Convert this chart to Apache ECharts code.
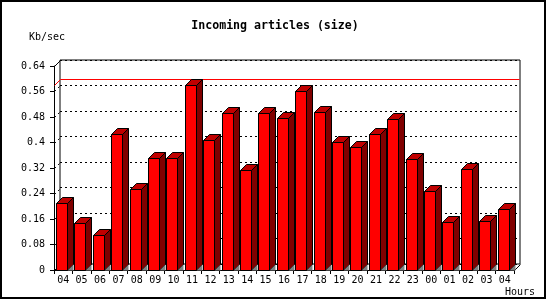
<!DOCTYPE html>
<html>
<head>
<meta charset="utf-8">
<script src="https://cdn.jsdelivr.net/npm/echarts@6/dist/echarts.min.js"></script>
<style>html,body{margin:0;padding:0;background:#fff}#c{width:550px;height:300px}</style>
</head>
<body>
<div id="c"></div>
<script>
const hours = ['04','05','06','07','08','09','10','11','12','13','14','15','16','17','18','19','20','21','22','23','00','01','02','03','04'];
const kbPerSec = [0.21,0.147,0.109,0.426,0.254,0.352,0.352,0.579,0.409,0.491,0.314,0.494,0.477,0.56,0.496,0.402,0.386,0.427,0.475,0.348,0.248,0.151,0.317,0.153,0.191];
const yTicks = [0,0.08,0.16,0.24,0.32,0.4,0.48,0.56,0.64];
const titleText = 'Incoming articles (size)';
const yUnit = 'Kb/sec';
const xUnit = 'Hours';

const FONT = 'DejaVu Sans Mono';
const DEPTH = 6;
const BAR_W = 11;
const maxVal = Math.max.apply(null, kbPerSec);

const chart = echarts.init(document.getElementById('c'), null, {renderer: 'canvas'});

function barItem(params, api) {
  const i = api.value(0), v = api.value(1);
  const base = api.coord([i, 0]);
  const top = api.coord([i, v]);
  const band = api.size([1, 0])[0];
  const x0 = Math.round(base[0] - band / 2) + 2.5;
  const yB = Math.round(base[1]) + 0.5;
  const yT = Math.round(top[1]) + 0.5;
  const w = BAR_W, d = DEPTH;
  return {
    type: 'group',
    children: [
      {type: 'polygon', shape: {points: [[x0 + w, yT], [x0 + w + d, yT - d], [x0 + w + d, yB - d], [x0 + w, yB]]},
       style: {fill: '#800000', stroke: '#000', lineWidth: 1}},
      {type: 'polygon', shape: {points: [[x0 + w, yB], [x0 + w + d, yB - d], [x0 + w + d, yB]]},
       style: {fill: '#808080', stroke: null}},
      {type: 'polygon', shape: {points: [[x0, yT], [x0 + d, yT - d], [x0 + w + d, yT - d], [x0 + w, yT]]},
       style: {fill: '#c00000', stroke: '#000', lineWidth: 1}},
      {type: 'rect', shape: {x: x0, y: yT, width: w, height: yB - yT},
       style: {fill: '#ff0000', stroke: '#000', lineWidth: 1}}
    ]
  };
}

function wallItem(params, api) {
  const v = api.value(1);
  const cs = params.coordSys;
  const p = api.coord([0, v]);
  const y = Math.round(p[1]) + 0.5;
  const xl = Math.round(cs.x) + 0.5;
  const solid = (v === yTicks[0] || v === yTicks[yTicks.length - 1]);
  const children = [
    {type: 'line', shape: {x1: xl - DEPTH, y1: y + DEPTH, x2: xl, y2: y},
     style: {stroke: '#000', lineWidth: 1, lineDash: solid ? null : [2, 3]}}
  ];
  if (v === yTicks[0]) {
    const xr = Math.round(cs.x + cs.width) + 0.5;
    children.push({type: 'line', shape: {x1: xr - DEPTH, y1: y + DEPTH, x2: xr, y2: y},
      style: {stroke: '#000', lineWidth: 1}});
  }
  return {type: 'group', children: children};
}

function maxItem(params, api) {
  const v = api.value(1);
  const cs = params.coordSys;
  const p = api.coord([0, v]);
  const y = Math.round(p[1]) + 0.5;
  const xl = Math.round(cs.x) + 0.5;
  const xr = Math.round(cs.x + cs.width) - 0.5;
  return {type: 'group', children: [
    {type: 'line', shape: {x1: xl - DEPTH, y1: y + DEPTH, x2: xl, y2: y},
     style: {stroke: '#ff0000', lineWidth: 1}},
    {type: 'line', shape: {x1: xl, y1: y, x2: xr, y2: y},
     style: {stroke: '#ff0000', lineWidth: 1}}
  ]};
}

const option = {
  backgroundColor: '#fff',
  animation: false,
  title: [
    {text: titleText, left: 'center', top: 20, padding: 0,
     textStyle: {fontFamily: FONT, fontWeight: 'bold', fontSize: 11.6, color: '#000'}},
    {text: yUnit, left: 29, top: 32, padding: 0,
     textStyle: {fontFamily: FONT, fontWeight: 'normal', fontSize: 10, color: '#000'}},
    {text: xUnit, left: 505, top: 287, padding: 0,
     textStyle: {fontFamily: FONT, fontWeight: 'normal', fontSize: 10, color: '#000'}}
  ],
  graphic: [
    {type: 'rect', shape: {x: 1, y: 1, width: 544, height: 297},
     style: {fill: null, stroke: '#000', lineWidth: 2}, z: 100}
  ],
  grid: [
    {left: 54, right: 36, top: 66, bottom: 30, containLabel: false},
    {left: 60, right: 30, top: 60, bottom: 36, containLabel: false,
     show: true, borderColor: '#000', borderWidth: 1, backgroundColor: 'transparent'}
  ],
  xAxis: [
    {type: 'category', gridIndex: 0, data: hours, boundaryGap: true,
     axisLine: {show: true, lineStyle: {color: '#000', width: 1}},
     axisTick: {show: true, interval: 0, length: 4, lineStyle: {color: '#000'}},
     axisLabel: {interval: 0, margin: 5, fontFamily: FONT, fontSize: 10, color: '#000'},
     splitLine: {show: false}},
    {type: 'category', gridIndex: 1, data: hours, show: false}
  ],
  yAxis: [
    {type: 'value', gridIndex: 0, min: 0, max: 0.64, interval: 0.08,
     axisLine: {show: true, lineStyle: {color: '#000', width: 1}},
     axisTick: {show: true, length: 4, lineStyle: {color: '#000'}},
     axisLabel: {margin: 9, fontFamily: FONT, fontSize: 10, color: '#000',
       formatter: function (v) { return String(Math.round(v * 100) / 100); }},
     splitLine: {show: false}},
    {type: 'value', gridIndex: 1, min: 0, max: 0.64, interval: 0.08,
     axisLine: {show: false}, axisTick: {show: false}, axisLabel: {show: false},
     splitLine: {show: true, lineStyle: {color: '#000', width: 1, type: [2, 3]}}}
  ],
  series: [
    {type: 'custom', name: 'walls', xAxisIndex: 1, yAxisIndex: 1, z: 1,
     renderItem: wallItem, data: yTicks.map(function (t) { return [0, t]; }), silent: true},
    {type: 'custom', name: 'max', xAxisIndex: 1, yAxisIndex: 1, z: 2,
     renderItem: maxItem, data: [[0, maxVal]], silent: true},
    {type: 'custom', name: 'Kb/sec', xAxisIndex: 0, yAxisIndex: 0, z: 3,
     renderItem: barItem, data: kbPerSec.map(function (v, i) { return [i, v]; })}
  ]
};
chart.setOption(option);
</script>
</body>
</html>
